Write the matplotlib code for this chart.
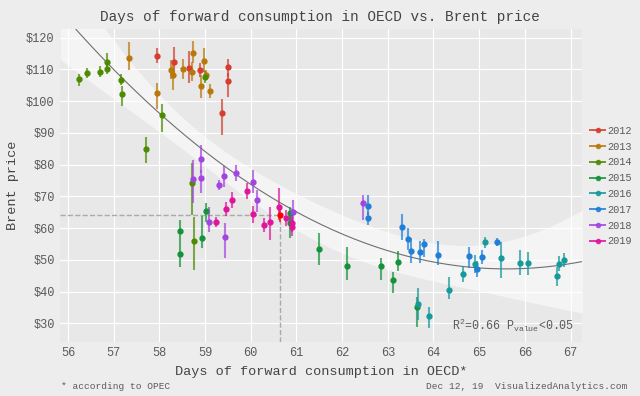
import numpy as np
import matplotlib
matplotlib.use("Agg")
import matplotlib.pyplot as plt
from matplotlib.lines import Line2D

# -------------------------
# Data
# x = days of forward consumption, y = Brent price, lo/hi = error bar ends
# -------------------------
years = ["2012", "2013", "2014", "2015", "2016", "2017", "2018", "2019"]
colors = ["#D43D2F", "#B8780A", "#4E8A00", "#14923A", "#16999A", "#1F7ED8", "#A444E0", "#E0149B"]

x2012 = [57.94, 58.33, 58.64, 58.89, 59.38, 59.51, 59.51]
y2012 = [114.3, 112.3, 110.4, 109.8, 96.3, 110.7, 106.4]
lo2012 = [112.0, 107.7, 105.6, 107.7, 89.4, 107.7, 101.4]
hi2012 = [116.6, 117.0, 115.9, 111.9, 100.7, 113.2, 108.8]

x2013 = [57.33, 57.95, 58.26, 58.29, 58.52, 58.72, 58.74, 58.92, 58.98, 59.03, 59.10]
y2013 = [113.5, 102.5, 109.8, 108.2, 110.1, 109.2, 115.1, 104.6, 112.6, 108.2, 103.2]
lo2013 = [109.8, 97.4, 106.8, 103.5, 107.1, 106.2, 111.9, 100.9, 109.3, 106.7, 100.9]
hi2013 = [118.7, 105.6, 112.8, 111.9, 113.1, 112.2, 118.9, 108.2, 116.7, 109.7, 105.5]

x2014 = [56.25, 56.41, 56.71, 56.85, 56.85, 57.16, 57.19, 57.71, 58.06, 58.99, 58.71, 58.76]
y2014 = [107.0, 108.8, 109.3, 112.4, 110.0, 106.7, 102.2, 84.9, 95.5, 107.6, 74.1, 56.0]
lo2014 = [104.9, 107.2, 107.6, 109.8, 108.5, 105.0, 98.3, 80.4, 90.2, 105.6, 64.1, 46.8]
hi2014 = [108.6, 110.4, 111.0, 115.1, 111.5, 108.4, 104.6, 88.8, 99.1, 109.6, 80.4, 63.6]

x2015 = [58.46, 58.46, 58.94, 59.03, 60.85, 60.85, 61.49, 62.11, 62.86, 63.11, 63.23, 63.65]
y2015 = [59.1, 51.8, 57.0, 65.4, 64.8, 61.7, 53.4, 48.0, 48.0, 43.6, 49.2, 35.1]
lo2015 = [55.2, 47.8, 53.6, 62.0, 62.0, 56.8, 48.4, 43.6, 43.6, 39.6, 46.6, 28.9]
hi2015 = [62.5, 55.2, 63.8, 67.8, 66.5, 64.0, 58.4, 54.1, 50.5, 46.3, 52.9, 38.4]

x2016 = [63.67, 63.91, 64.34, 64.64, 64.91, 65.12, 65.47, 65.90, 66.07, 66.71, 66.74, 66.85]
y2016 = [36.1, 32.2, 40.6, 45.5, 48.6, 55.5, 50.6, 49.1, 48.9, 44.8, 48.8, 49.9]
lo2016 = [31.0, 28.4, 37.6, 43.0, 45.8, 53.7, 44.2, 45.1, 45.2, 41.8, 46.5, 47.7]
hi2016 = [41.0, 35.0, 44.5, 48.0, 51.4, 57.3, 55.7, 53.1, 52.6, 47.8, 51.1, 52.1]

x2017 = [62.56, 62.56, 63.32, 63.45, 63.51, 63.70, 63.79, 64.11, 64.77, 64.95, 65.06, 65.39]
y2017 = [67.1, 63.1, 60.2, 56.6, 52.9, 52.5, 55.1, 51.6, 51.1, 47.1, 50.8, 55.7]
lo2017 = [64.1, 61.1, 56.2, 53.1, 48.9, 49.0, 51.0, 48.4, 47.3, 44.6, 48.6, 54.5]
hi2017 = [70.4, 65.1, 64.3, 60.1, 56.9, 56.0, 56.6, 55.9, 54.1, 49.6, 53.0, 56.9]

x2018 = [58.74, 58.91, 58.92, 59.08, 59.31, 59.42, 59.43, 59.68, 60.05, 60.13, 60.92, 62.45]
y2018 = [75.5, 75.7, 81.8, 61.9, 73.5, 76.5, 57.3, 77.4, 74.6, 68.8, 65.2, 68.0]
lo2018 = [67.8, 71.0, 77.3, 58.9, 71.9, 73.0, 50.5, 74.9, 71.0, 65.2, 61.5, 62.5]
hi2018 = [81.5, 78.3, 86.2, 66.7, 75.1, 79.6, 61.5, 79.9, 78.3, 72.0, 68.8, 70.4]

x2019 = [59.25, 59.46, 59.60, 59.92, 60.04, 60.30, 60.43, 60.63, 60.78, 60.90, 60.90]
y2019 = [61.9, 66.1, 68.8, 71.8, 64.3, 61.0, 61.8, 66.5, 63.1, 61.7, 60.4]
lo2019 = [60.2, 63.9, 66.3, 69.3, 61.5, 58.9, 56.2, 62.5, 60.6, 58.7, 57.4]
hi2019 = [63.6, 68.3, 71.3, 74.3, 67.0, 63.1, 66.7, 72.5, 65.6, 64.7, 63.4]

# latest month, highlighted
last_x = 60.65
last_y = 64.2
last_lo = 62.0
last_hi = 66.4

xs = [x2012, x2013, x2014, x2015, x2016, x2017, x2018, x2019]
ys = [y2012, y2013, y2014, y2015, y2016, y2017, y2018, y2019]
los = [lo2012, lo2013, lo2014, lo2015, lo2016, lo2017, lo2018, lo2019]
his = [hi2012, hi2013, hi2014, hi2015, hi2016, hi2017, hi2018, hi2019]

x_ticks = [56, 57, 58, 59, 60, 61, 62, 63, 64, 65, 66, 67]
y_ticks = [30, 40, 50, 60, 70, 80, 90, 100, 110, 120]

# -------------------------
# Style
# -------------------------
plt.rcParams['font.family'] = ['Liberation Mono', 'DejaVu Sans Mono']
plt.rcParams['mathtext.fontset'] = 'custom'
plt.rcParams['mathtext.rm'] = 'Liberation Mono'
plt.rcParams['mathtext.it'] = 'Liberation Mono'
text_col = "#5A5A5A"

fig = plt.figure(figsize=(6.4, 3.96), dpi=100, facecolor="#EDEDED")
ax = fig.add_axes([0.094, 0.137, 0.816, 0.789])
ax.set_facecolor("#E8E8E8")
xlim = (55.83, 67.26)
ylim = (24.2, 122.6)
ax.set_xlim(*xlim)
ax.set_ylim(*ylim)

for s in ax.spines.values():
    s.set_visible(False)
ax.grid(True, color="white", linewidth=0.8)
ax.set_axisbelow(True)
ax.set_xticks(x_ticks)
ax.set_yticks(y_ticks)
ax.set_yticklabels(["$%d" % v for v in y_ticks])
ax.tick_params(length=0, pad=4, labelsize=8.6, labelcolor=text_col)

# -------------------------
# Quadratic fit with band
# -------------------------
all_x = np.concatenate([np.array(v) for v in xs] + [[last_x]])
all_y = np.concatenate([np.array(v) for v in ys] + [[last_y]])
coef, cov = np.polyfit(all_x, all_y, 2, cov=True)
gx = np.linspace(xlim[0], xlim[1], 200)
gy = np.polyval(coef, gx)
V = np.vstack([gx ** 2, gx, np.ones_like(gx)]).T
se = np.sqrt(np.einsum('ij,jk,ik->i', V, cov, V))
k = 6.0 / np.interp(64.0, gx, se)
ax.fill_between(gx, gy - k * se, gy + k * se, color="white", alpha=0.55, linewidth=0, zorder=1)
ax.plot(gx, gy, color="#707070", linewidth=0.8, zorder=2)

# -------------------------
# Points with error bars
# -------------------------
for yr, col, x, y, lo, hi in zip(years, colors, xs, ys, los, his):
    x = np.array(x)
    y = np.array(y)
    ax.vlines(x, lo, hi, color=col, linewidth=1.5, alpha=0.7, zorder=3)
    ax.plot(x, y, 'o', color=col, markersize=3.5, zorder=4)

# latest point + crosshair
ax.plot([xlim[0], last_x], [last_y, last_y], '--', color="#AAAAAA", linewidth=1, zorder=2)
ax.plot([last_x, last_x], [ylim[0], last_y], '--', color="#AAAAAA", linewidth=1, zorder=2)
ax.vlines([last_x], [last_lo], [last_hi], color="#FF0000", linewidth=1.5, alpha=0.7, zorder=3)
ax.plot([last_x], [last_y], 'o', color="#FF0000", markersize=3.5, zorder=5)

ax.text(0.985, 0.025, r"R$^{2}$=0.66 P$_{\mathrm{value}}$<0.05", transform=ax.transAxes,
        ha="right", va="bottom", fontsize=8.4, color=text_col)

# -------------------------
# Titles and captions
# -------------------------
fig.text(0.5, 0.958, "Days of forward consumption in OECD vs. Brent price",
         ha="center", va="center", fontsize=10.4, color="#444444")
ax.set_xlabel("Days of forward consumption in OECD*", fontsize=9.7, color="#444444", labelpad=5)
ax.set_ylabel("Brent price", fontsize=9.7, color="#444444", labelpad=5)
fig.text(0.095, 0.025, "* according to OPEC", ha="left", va="center", fontsize=6.8, color=text_col)
fig.text(0.98, 0.025, "Dec 12, 19  VisualizedAnalytics.com", ha="right", va="center",
         fontsize=6.8, color=text_col)

# -------------------------
# Legend
# -------------------------
handles = [Line2D([0], [0], color=c, marker='o', markersize=3, linewidth=1.4, alpha=0.85) for c in colors]
leg = fig.legend(handles, years, loc="center left", bbox_to_anchor=(0.908, 0.53),
                 frameon=False, fontsize=7.4, handlelength=1.4, handletextpad=0.25,
                 labelspacing=0.56, labelcolor=text_col)

fig.savefig("out.png", dpi=100, facecolor=fig.get_facecolor())
